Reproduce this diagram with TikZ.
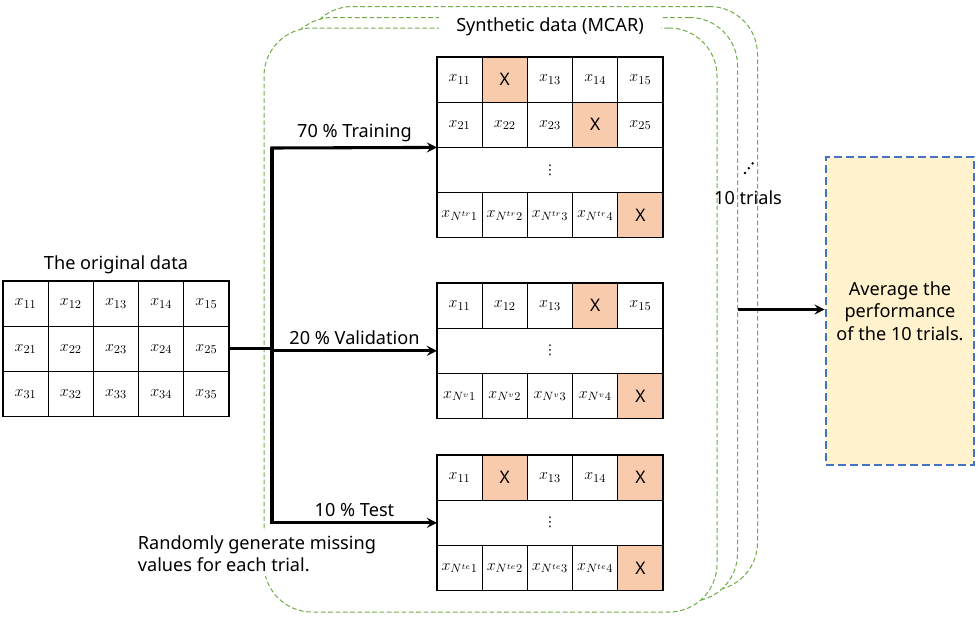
\documentclass[tikz,border=0pt]{standalone}
\usepackage{amsmath}
\usepackage{amssymb}
\usepackage{fontspec}
\setmainfont{Noto Sans}
\newfontfamily\dejavu{DejaVu Sans}
\usetikzlibrary{arrows,positioning}

\definecolor{framegreen}{HTML}{70AD47}
\definecolor{missfill}{HTML}{F8CBAD}
\definecolor{avgfill}{HTML}{FFF2CC}
\definecolor{avgblue}{HTML}{4472C4}

\tikzset{
    cell/.style={draw, line width=0.8pt, minimum width=33.9pt, minimum height=33.9pt,
        inner sep=0pt, outer sep=0pt, font=\fontsize{13}{15}\selectfont},
    miss/.style={cell, fill=missfill},
    dotrow/.style={cell, minimum width=169.5pt, font=\dejavu\fontsize{10}{12}\selectfont},
    trial/.style={draw=framegreen, dash pattern=on 3.5pt off 2pt, fill=white,
        rounded corners=36pt, minimum width=339.75pt, minimum height=438pt, line width=0.75pt},
    lbl/.style={font=\fontsize{13.6}{17}\selectfont},
    flow/.style={->, line width=2.3pt},
}

\begin{document}
\begin{tikzpicture}[x=0.75pt,y=-0.75pt,>=stealth]
    \useasboundingbox (0,0) rectangle (978,619);

    % stacked trial frames
    \node[trial] (fr3) at (531,298.5) {};
    \node[trial] (fr2) at (511,309.5) {};
    \node[trial] (fr1) at (490.5,320) {};
    \node[lbl, fill=white, inner xsep=13pt, inner ysep=3pt] (syn) at (550,27) {Synthetic data (MCAR)};
    \node[lbl, fill=white, align=left, anchor=north west, inner xsep=2pt, inner ysep=3pt] (note) at (135,531)
        {Randomly generate missing\\values for each trial.};

    % the original data
    \foreach \i in {1,2,3}
        \foreach \j in {1,...,5}
            \node[cell] (o\i\j) at ({-19.6+45.2*\j},{258.4+45.2*\i}) {$x_{\i\j}$};
    \node[lbl, above=2pt of o13] (otitle) {The original data};

    % training set
    \foreach \c/\s [count=\j] in {$x_{11}$/cell, X/miss, $x_{13}$/cell, $x_{14}$/cell, $x_{15}$/cell}
        \node[\s] (tra\j) at ({414.4+45.2*\j},79.6) {\c};
    \foreach \c/\s [count=\j] in {$x_{21}$/cell, $x_{22}$/cell, $x_{23}$/cell, X/miss, $x_{25}$/cell}
        \node[\s] (trb\j) at ({414.4+45.2*\j},124.8) {\c};
    \node[dotrow] (trd) at (550,170) {⋮};
    \foreach \j in {1,...,4}
        \node[cell] (trl\j) at ({414.4+45.2*\j},215.2) {$x_{N^{tr}\j}$};
    \node[miss] (trl5) at (640.4,215.2) {X};

    % validation set
    \foreach \c/\s [count=\j] in {$x_{11}$/cell, $x_{12}$/cell, $x_{13}$/cell, X/miss, $x_{15}$/cell}
        \node[\s] (vaa\j) at ({414.4+45.2*\j},305.6) {\c};
    \node[dotrow] (vad) at (550,350.8) {⋮};
    \foreach \j in {1,...,4}
        \node[cell] (val\j) at ({414.4+45.2*\j},396) {$x_{N^{v}\j}$};
    \node[miss] (val5) at (640.4,396) {X};

    % test set
    \foreach \c/\s [count=\j] in {$x_{11}$/cell, X/miss, $x_{13}$/cell, $x_{14}$/cell, X/miss}
        \node[\s] (tea\j) at ({414.4+45.2*\j},477.6) {\c};
    \node[dotrow] (ted) at (550,522.8) {⋮};
    \foreach \j in {1,...,4}
        \node[cell] (tel\j) at ({414.4+45.2*\j},568) {$x_{N^{te}\j}$};
    \node[miss] (tel5) at (640.4,568) {X};

    % split
    \coordinate (bus) at (272,148);
    \draw[line width=2.3pt] (o25.east) -- (o25.east -| bus);
    \draw[flow] (bus |- vad.west) -- (bus) -- node[lbl, above=0pt]{70 \% Training} (trd.north west);
    \draw[flow] (bus |- vad.west) -- node[lbl, above=0pt]{20 \% Validation} (vad.west);
    \draw[flow] (bus) -- (bus |- ted.west) -- node[lbl, above=0pt]{10 \% Test} (ted.west);

    % trials
    \node[lbl] (ntr) at (748,198) {10 trials};
    \foreach \k in {0,1,2}
        \fill ({745+3.8*\k},{173-4.8*\k}) circle (1.3);

    % result
    \node[draw=avgblue, fill=avgfill, dash pattern=on 6pt off 3pt, line width=2pt,
        minimum width=111pt, minimum height=231pt, align=center, lbl] (avg) at (900,311)
        {Average the\\performance\\of the 10 trials.};
    \draw[flow] (fr2.east) -- (fr2.east -| avg.west);
\end{tikzpicture}
\end{document}
